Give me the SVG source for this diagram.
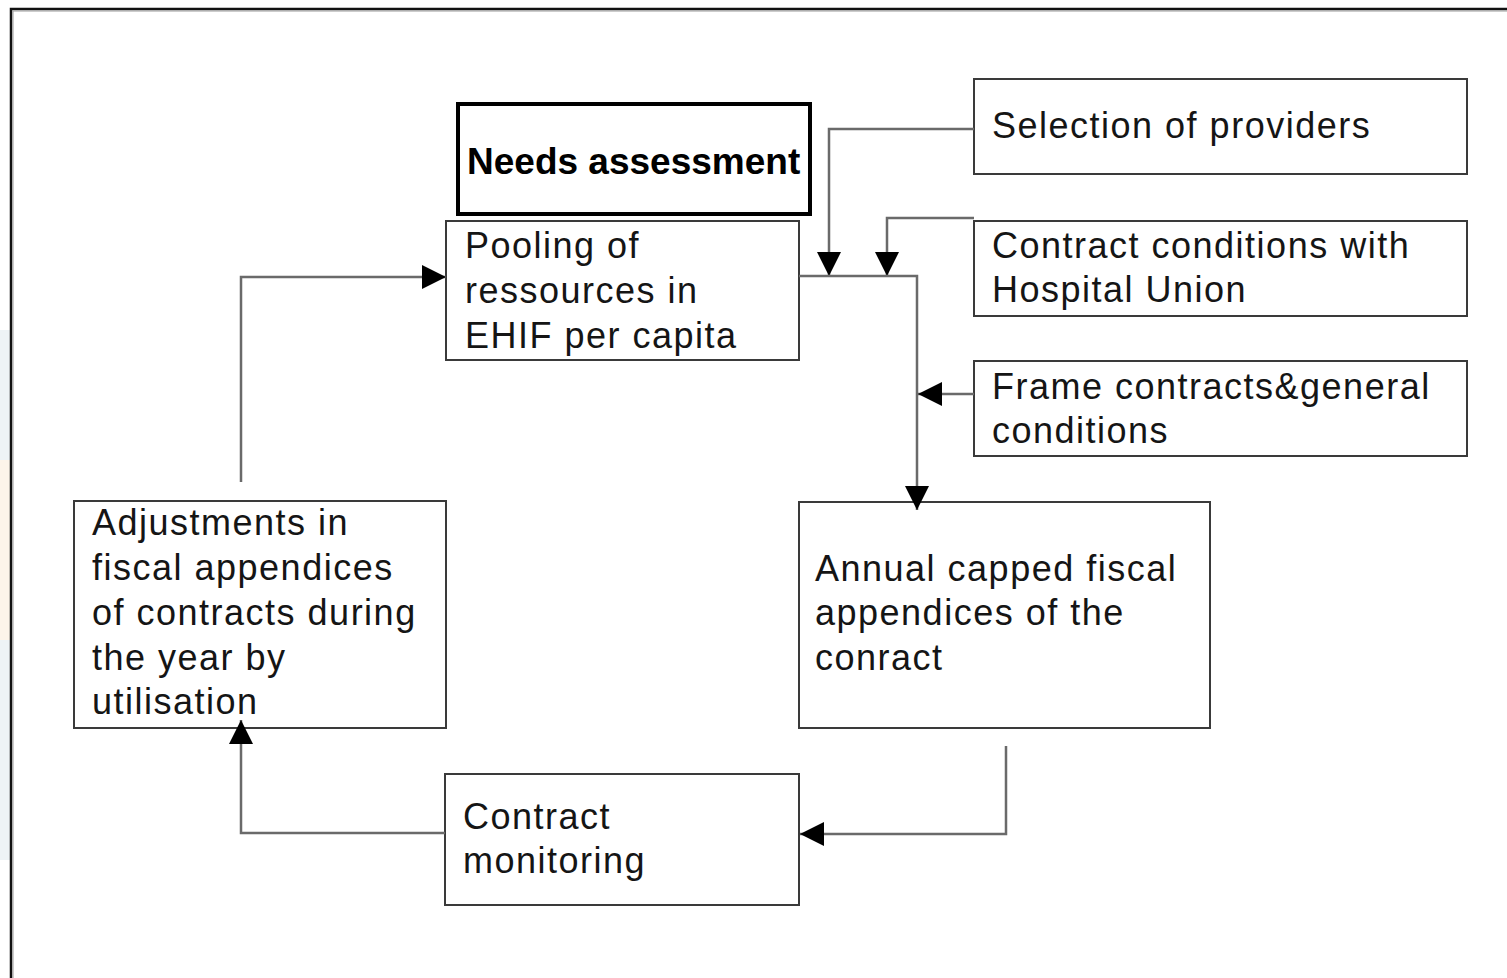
<svg xmlns="http://www.w3.org/2000/svg" width="1507" height="978" viewBox="0 0 1507 978">
<style>
.box{fill:#fff;stroke:#3a3a3a;stroke-width:2}
.t{font-family:"Liberation Sans",Arial,sans-serif;font-size:36px;fill:#151515;letter-spacing:1.5px}
.b{font-family:"Liberation Sans",Arial,sans-serif;font-size:37px;font-weight:bold;fill:#000}
.c{fill:none;stroke:#6a6a6a;stroke-width:2.5}
</style>
<defs>
<marker id="ah" viewBox="0 0 24 24" refX="24" refY="12" markerWidth="24" markerHeight="24" markerUnits="userSpaceOnUse" orient="auto">
<path d="M0,0 L24,12 L0,24 Z" fill="#000"/>
</marker>
</defs>
<rect width="1507" height="978" fill="#fff"/>
<g id="bg">
<rect x="0" y="330" width="10" height="130" fill="#eef3f6"/>
<rect x="0" y="460" width="10" height="180" fill="#fdf4ea"/>
<rect x="0" y="640" width="10" height="220" fill="#eef3f6"/>
</g>
<g id="frame">
<path d="M11,978 V9 H1507" fill="none" stroke="#111" stroke-width="2.5"/>
<path d="M13,978 V11 H1507" fill="none" stroke="#999" stroke-width="1"/>
</g>
<g id="needs">
<rect x="458" y="104" width="352" height="110" fill="#fff" stroke="#000" stroke-width="4"/>
<text class="b" x="467" y="174">Needs assessment</text>
</g>
<g id="pooling">
<rect class="box" x="446" y="221" width="353" height="139"/>
<text class="t" x="465" y="258">Pooling of</text>
<text class="t" x="465" y="303">ressources in</text>
<text class="t" x="465" y="348">EHIF per capita</text>
</g>
<g id="selection">
<rect class="box" x="974" y="79" width="493" height="95"/>
<text class="t" x="992" y="138">Selection of providers</text>
</g>
<g id="contractcond">
<rect class="box" x="974" y="221" width="493" height="95"/>
<text class="t" x="992" y="258">Contract conditions with</text>
<text class="t" x="992" y="302">Hospital Union</text>
</g>
<g id="frameContracts">
<rect class="box" x="974" y="361" width="493" height="95"/>
<text class="t" x="992" y="399">Frame contracts&amp;general</text>
<text class="t" x="992" y="443">conditions</text>
</g>
<g id="adjust">
<rect class="box" x="74" y="501" width="372" height="227"/>
<text class="t" x="92" y="535">Adjustments in</text>
<text class="t" x="92" y="580">fiscal appendices</text>
<text class="t" x="92" y="625">of contracts during</text>
<text class="t" x="92" y="670">the year by</text>
<text class="t" x="92" y="714">utilisation</text>
</g>
<g id="annual">
<rect class="box" x="799" y="502" width="411" height="226"/>
<text class="t" x="815" y="581">Annual capped fiscal</text>
<text class="t" x="815" y="625">appendices of the</text>
<text class="t" x="815" y="670">conract</text>
</g>
<g id="monitoring">
<rect class="box" x="445" y="774" width="354" height="131"/>
<text class="t" x="463" y="829">Contract</text>
<text class="t" x="463" y="873">monitoring</text>
</g>
<g id="connectors">
<path class="c" d="M974,129 H829 V276" marker-end="url(#ah)"/>
<path class="c" d="M974,218 H887 V276" marker-end="url(#ah)"/>
<path class="c" d="M799,276 H917 V510" marker-end="url(#ah)"/>
<path class="c" d="M974,394 H918" marker-end="url(#ah)"/>
<path class="c" d="M1006,746 V834 H800" marker-end="url(#ah)"/>
<path class="c" d="M445,833 H241 V720" marker-end="url(#ah)"/>
<path class="c" d="M241,482 V277 H446" marker-end="url(#ah)"/>
</g>
</svg>
